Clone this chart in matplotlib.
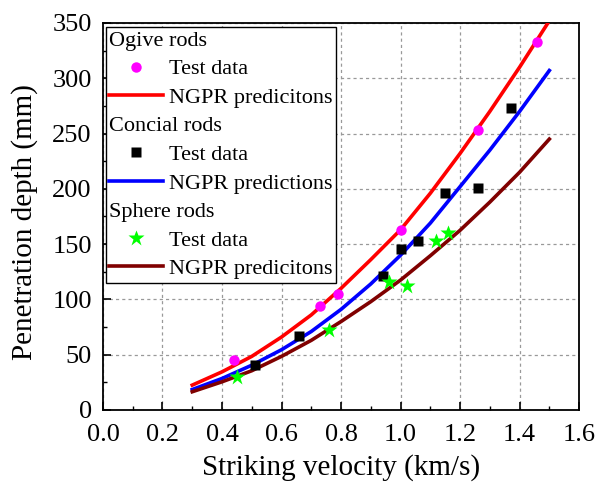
import numpy as np
import matplotlib
matplotlib.use('Agg')
import matplotlib.pyplot as plt
from matplotlib.lines import Line2D

# measured penetration depth vs striking velocity for three nose shapes
ogive_v = [0.44, 0.73, 0.79, 1.00, 1.26, 1.46]
ogive_d = [45, 94, 105, 163, 253, 333]
conical_v = [0.51, 0.66, 0.94, 1.00, 1.06, 1.15, 1.26, 1.37]
conical_d = [41, 67, 121, 146, 153, 196, 201, 273]
sphere_v = [0.45, 0.76, 0.96, 1.02, 1.12, 1.16]
sphere_d = [30, 72, 116, 112, 153, 160]

# NGPR model predictions
pred_v = [0.3, 0.4, 0.5, 0.6, 0.7, 0.8, 0.9, 1.0, 1.1, 1.2, 1.3, 1.4, 1.5]
ogive_pred = [22.5, 34.5, 48.5, 66, 86, 110, 136, 163, 196, 232, 270, 310, 352]
conical_pred = [18.5, 28.5, 40.5, 54.5, 71, 91, 114, 140, 169, 202, 235, 270, 307]
sphere_pred = [16.5, 25.5, 35.5, 48.5, 63, 80, 98, 117.5, 139.5, 162.5, 188, 215, 245]

group_titles = ['Ogive rods', 'Concial rods', 'Sphere rods']
legend_labels = ['Test data', 'NGPR predicitons',
                 'Test data', 'NGPR predictions',
                 'Test data', 'NGPR predicitons']

plt.rcParams['font.family'] = 'Liberation Serif'

fig = plt.figure(figsize=(5.97, 4.84), dpi=100)
ax = fig.add_axes([0.1725, 0.1529, 0.7975, 0.7996])

lw = 2.6
l1, = ax.plot(pred_v, ogive_pred, color='#ff0000', lw=lw, zorder=3)
l2, = ax.plot(pred_v, conical_pred, color='#0000ff', lw=lw, zorder=3)
l3, = ax.plot(pred_v, sphere_pred, color='#800000', lw=lw, zorder=3)
p1, = ax.plot(ogive_v, ogive_d, 'o', color='#ff00ff', ms=7.5, mec='none', zorder=4)
p2, = ax.plot(conical_v, conical_d, 's', color='black', ms=7, mec='none', zorder=4)
p3, = ax.plot(sphere_v, sphere_d, '*', color='#00ff00', ms=12, mec='none', zorder=4)

ax.set_xlim(0, 1.6)
ax.set_ylim(0, 350)
ax.set_xticks(np.arange(0, 1.61, 0.2))
ax.set_xticks(np.arange(0, 1.61, 0.1), minor=True)
ax.set_yticks(np.arange(0, 351, 50))
ax.set_yticks(np.arange(0, 351, 25), minor=True)
ax.xaxis.set_major_formatter(matplotlib.ticker.FormatStrFormatter('%.1f'))
ax.tick_params(which='major', direction='in', length=6, width=1.2, labelsize=19)
ax.tick_params(axis='x', which='major', pad=10)
ax.tick_params(axis='y', which='major', pad=8)
ax.tick_params(which='minor', direction='in', length=3, width=1.0)
ax.grid(True, which='major', color='#999999', linestyle=(0, (2.5, 2.5)), linewidth=0.9)
for s in ax.spines.values():
    s.set_linewidth(1.3)

ax.set_xlabel('Striking velocity (km/s)', fontsize=21)
ax.set_ylabel('Penetration depth (mm)', fontsize=21)
ax.xaxis.set_label_coords(0.5, -0.114)
ax.yaxis.set_label_coords(-0.137, 0.486)

# legend with a text-only header row above each group
blank = Line2D([], [], linestyle='none')
handles = [blank, p1, l1, blank, p2, l2, blank, p3, l3]
labels = [group_titles[0]] + legend_labels[0:2] + [group_titles[1]] + legend_labels[2:4] \
    + [group_titles[2]] + legend_labels[4:6]
leg = ax.legend(handles, labels, loc='upper left', bbox_to_anchor=(0.006, 0.99),
                borderaxespad=0, fontsize=16, frameon=True, fancybox=False,
                edgecolor='black', framealpha=1, numpoints=1, handlelength=2.4,
                handletextpad=0.3, borderpad=0.15, labelspacing=0.36)
leg.get_frame().set_linewidth(1.0)
rows = leg._legend_handle_box.get_children()[0].get_children()
for row, lab in zip(rows, labels):
    if lab in group_titles:
        row.get_children()[0].width = 0
        row.sep = 0

fig.savefig('out.png', dpi=100)
